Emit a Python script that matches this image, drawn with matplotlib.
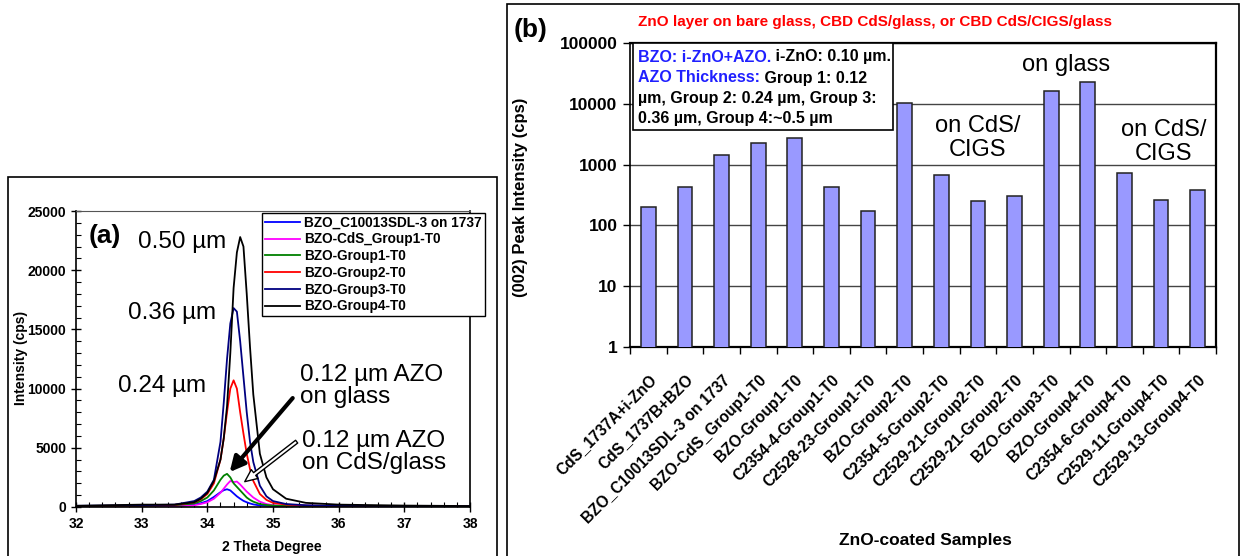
import numpy as np
import matplotlib
matplotlib.use("Agg")
import matplotlib.pyplot as plt
from matplotlib.patches import Rectangle
from matplotlib.ticker import MultipleLocator, FixedLocator, NullFormatter

# ---- panel (a): XRD scans around the (002) peak ----
two_theta = [32, 33, 33.5, 33.8, 33.9, 34.0, 34.1, 34.2, 34.25, 34.3, 34.35, 34.4, 34.45,
             34.5, 34.55, 34.6, 34.65, 34.7, 34.8, 34.9, 35.0, 35.2, 35.5, 36, 37, 38]
scan_c10013 = [40, 60, 80, 200, 320, 500, 850, 1250, 1420, 1500, 1400, 1150, 900,
               700, 520, 400, 300, 220, 130, 100, 80, 60, 50, 40, 30, 20]
scan_cds_g1 = [20, 40, 60, 150, 250, 400, 700, 1200, 1550, 1900, 2200, 2100, 2150,
               1900, 1600, 1300, 1050, 800, 450, 250, 150, 90, 60, 40, 30, 20]
scan_g1 = [60, 100, 150, 300, 500, 800, 1400, 2300, 2650, 2800, 2500, 2000, 1700,
           1400, 1100, 800, 600, 450, 250, 170, 120, 90, 80, 60, 50, 40]
scan_g2 = [80, 120, 180, 400, 650, 1100, 2000, 4000, 5800, 8000, 10000, 10700, 10000,
           8000, 6200, 4500, 3200, 2200, 1100, 600, 350, 200, 120, 80, 60, 50]
scan_g3 = [100, 150, 200, 500, 800, 1300, 2300, 5500, 8800, 12500, 15500, 16800, 16500,
           14000, 11000, 8000, 5500, 3800, 1800, 900, 500, 250, 150, 100, 80, 60]
scan_g4 = [100, 200, 200, 400, 700, 1200, 2200, 4000, 5800, 8500, 13000, 18500, 21500,
           22800, 22000, 18000, 13500, 9500, 4500, 2500, 1500, 700, 350, 200, 120, 80]
scan_labels = ["BZO_C10013SDL-3 on 1737", "BZO-CdS_Group1-T0", "BZO-Group1-T0",
               "BZO-Group2-T0", "BZO-Group3-T0", "BZO-Group4-T0"]
scan_colors = ["#0000ff", "#ff00ff", "#008000", "#ff0000", "#000080", "#000000"]

# ---- panel (b): (002) peak intensity per sample ----
samples = ["CdS_1737A+i-ZnO", "CdS_1737B+BZO", "BZO_C10013SDL-3 on 1737",
           "BZO-CdS_Group1-T0", "BZO-Group1-T0", "C2354-4-Group1-T0",
           "C2528-23-Group1-T0", "BZO-Group2-T0", "C2354-5-Group2-T0",
           "C2529-21-Group2-T0", "C2529-21-Group2-T0", "BZO-Group3-T0",
           "BZO-Group4-T0", "C2354-6-Group4-T0", "C2529-11-Group4-T0",
           "C2529-13-Group4-T0"]
peak_cps = [203, 424, 1455, 2240, 2750, 424, 175, 10400, 676, 250, 300,
            16400, 22500, 727, 261, 382]

W, H = 1241, 556
plt.rcParams["font.family"] = ["Liberation Sans", "DejaVu Sans"]


def fx(px):
    return px / W


def fy(py):
    return 1 - py / H


fig = plt.figure(figsize=(W / 100, H / 100), dpi=100)

# panel frames
fig.patches.append(Rectangle((fx(8), fy(560)), fx(497) - fx(8), fy(177) - fy(560),
                             transform=fig.transFigure, fill=False, ec="k", lw=1.2))
fig.patches.append(Rectangle((fx(507), fy(560)), fx(1239) - fx(507), fy(4) - fy(560),
                             transform=fig.transFigure, fill=False, ec="k", lw=1.2))

# ---------------- panel (a) ----------------
ax1 = fig.add_axes([fx(76), fy(507), fx(470) - fx(76), fy(211) - fy(507)])
scans = [scan_c10013, scan_cds_g1, scan_g1, scan_g2, scan_g3, scan_g4]
for ys, lab, col in zip(scans, scan_labels, scan_colors):
    ax1.plot(two_theta, ys, color=col, lw=1.3, label=lab)
ax1.set_xlim(32, 38)
ax1.set_ylim(0, 25000)
ax1.xaxis.set_major_locator(MultipleLocator(1))
ax1.xaxis.set_minor_locator(MultipleLocator(0.2))
ax1.yaxis.set_major_locator(MultipleLocator(5000))
ax1.yaxis.set_minor_locator(MultipleLocator(1000))
ax1.tick_params(which="major", direction="inout", length=7, width=1, labelsize=10)
ax1.tick_params(which="minor", direction="in", length=3.5, width=0.8)
for lab in ax1.get_xticklabels() + ax1.get_yticklabels():
    lab.set_fontweight("bold")
for s in ["left", "bottom", "right"]:
    ax1.spines[s].set_linewidth(1.2)
ax1.spines["top"].set_color("#555555")
fig.text(fx(272), fy(547), "2 Theta Degree", ha="center", va="center",
         fontsize=10, fontweight="bold")
fig.text(fx(21), fy(358), "Intensity (cps)", ha="center", va="center",
         rotation=90, fontsize=10, fontweight="bold")

leg = ax1.legend(loc="upper left", bbox_to_anchor=(fx(262), fy(213)),
                 bbox_transform=fig.transFigure, prop={"weight": "bold", "size": 9.8},
                 frameon=True, fancybox=False, edgecolor="k", framealpha=1,
                 borderpad=0.2, labelspacing=0.2, handlelength=2.6,
                 handletextpad=0.3, borderaxespad=0)
leg.get_frame().set_linewidth(1.0)

fig.text(fx(89), fy(236), "(a)", fontsize=19, fontweight="bold", va="center")
big = 17.5
ax1.text(32.94, 22380, "0.50 µm", fontsize=big, va="center")
ax1.text(32.79, 16385, "0.36 µm", fontsize=big, va="center")
ax1.text(32.64, 10220, "0.24 µm", fontsize=big, va="center")
ax1.text(35.41, 10220, "0.12 µm AZO\non glass", fontsize=big, va="center",
         linespacing=1.05)
ax1.text(35.44, 4645, "0.12 µm AZO\non CdS/glass", fontsize=big, va="center",
         linespacing=1.05)
ax1.annotate("", xy=(34.34, 2950), xytext=(35.30, 9200),
             arrowprops=dict(arrowstyle="-|>,head_length=0.9,head_width=0.45",
                             color="k", lw=3, shrinkA=0, shrinkB=0))
ax1.annotate("", xy=(34.57, 2140), xytext=(35.36, 5520),
             arrowprops=dict(arrowstyle="simple,head_length=0.9,head_width=0.8,tail_width=0.25",
                             fc="white", ec="k", lw=1, shrinkA=0, shrinkB=0))

# ---------------- panel (b) ----------------
ax2 = fig.add_axes([fx(630), fy(347), fx(1216) - fx(630), fy(43) - fy(347)])
pos = np.arange(len(samples))
ax2.bar(pos, peak_cps, width=0.4, color="#9999ff", edgecolor="#222222", lw=1.1, zorder=3)
ax2.set_yscale("log")
ax2.set_ylim(1, 100000)
ax2.set_xlim(-0.5, len(samples) - 0.5)
ax2.yaxis.set_major_locator(FixedLocator([1, 10, 100, 1000, 10000, 100000]))
ax2.yaxis.set_minor_locator(FixedLocator([]))
ax2.set_yticklabels(["1", "10", "100", "1000", "10000", "100000"])
ax2.yaxis.grid(True, color="#444444", lw=1, zorder=0)
ax2.set_xticks(pos)
ax2.set_xticklabels(samples, rotation=45, ha="right", rotation_mode="anchor",
                    fontsize=11.2, fontweight="bold")
ax2.xaxis.set_minor_locator(FixedLocator(np.arange(len(samples) + 1) - 0.5))
ax2.xaxis.set_minor_formatter(NullFormatter())
ax2.tick_params(axis="x", which="major", length=0, pad=18)
ax2.tick_params(axis="x", which="minor", length=5, width=1, direction="out")
ax2.tick_params(axis="y", which="major", length=5, width=1, labelsize=12.5, pad=4)
for lab in ax2.get_yticklabels():
    lab.set_fontweight("bold")
for s in ax2.spines.values():
    s.set_linewidth(1.6)
ax2.spines["left"].set_linewidth(1.2)

fig.text(fx(875), fy(22), "ZnO layer on bare glass, CBD CdS/glass, or CBD CdS/CIGS/glass",
         ha="center", va="center", color="#ff0000", fontsize=11, fontweight="bold")
fig.text(fx(514), fy(30), "(b)", fontsize=19, fontweight="bold", va="center")
fig.text(fx(521), fy(197), "(002) Peak Intensity (cps)", rotation=90, ha="center",
         va="center", fontsize=12, fontweight="bold")
fig.text(fx(925), fy(540), "ZnO-coated Samples", ha="center", va="center",
         fontsize=12.5, fontweight="bold")

ax2.text(11.4, 43600, "on glass", ha="center", va="center", fontsize=17)
ax2.text(9.0, 2740, "on CdS/\nCIGS", ha="center", va="center", fontsize=17,
         linespacing=1.1)
ax2.text(14.06, 2350, "on CdS/\nCIGS", ha="center", va="center", fontsize=17,
         linespacing=1.1)

# note box with two-colour text
fig.patches.append(Rectangle((fx(633), fy(130)), fx(893) - fx(633), fy(43) - fy(130),
                             transform=fig.transFigure, fc="white", ec="k", lw=1.2,
                             zorder=5))
note_lines = [("BZO: i-ZnO+AZO.", " i-ZnO: 0.10 µm."),
              ("AZO Thickness:", " Group 1: 0.12"),
              ("", "µm, Group 2: 0.24 µm, Group 3:"),
              ("", "0.36 µm, Group 4:~0.5 µm")]
note_y = [57, 78, 99, 119]
renderer = fig.canvas.get_renderer()
for (blue, black), py in zip(note_lines, note_y):
    x0 = fx(638)
    if blue:
        t = fig.text(x0, fy(py), blue, color="#2020ff", fontsize=11.5, fontweight="bold",
                     va="center", zorder=6)
        bb = t.get_window_extent(renderer)
        x0 = bb.x1 / fig.bbox.width
    fig.text(x0, fy(py), black, color="k", fontsize=11.5, fontweight="bold",
             va="center", zorder=6)

fig.savefig("out.png", dpi=100)
